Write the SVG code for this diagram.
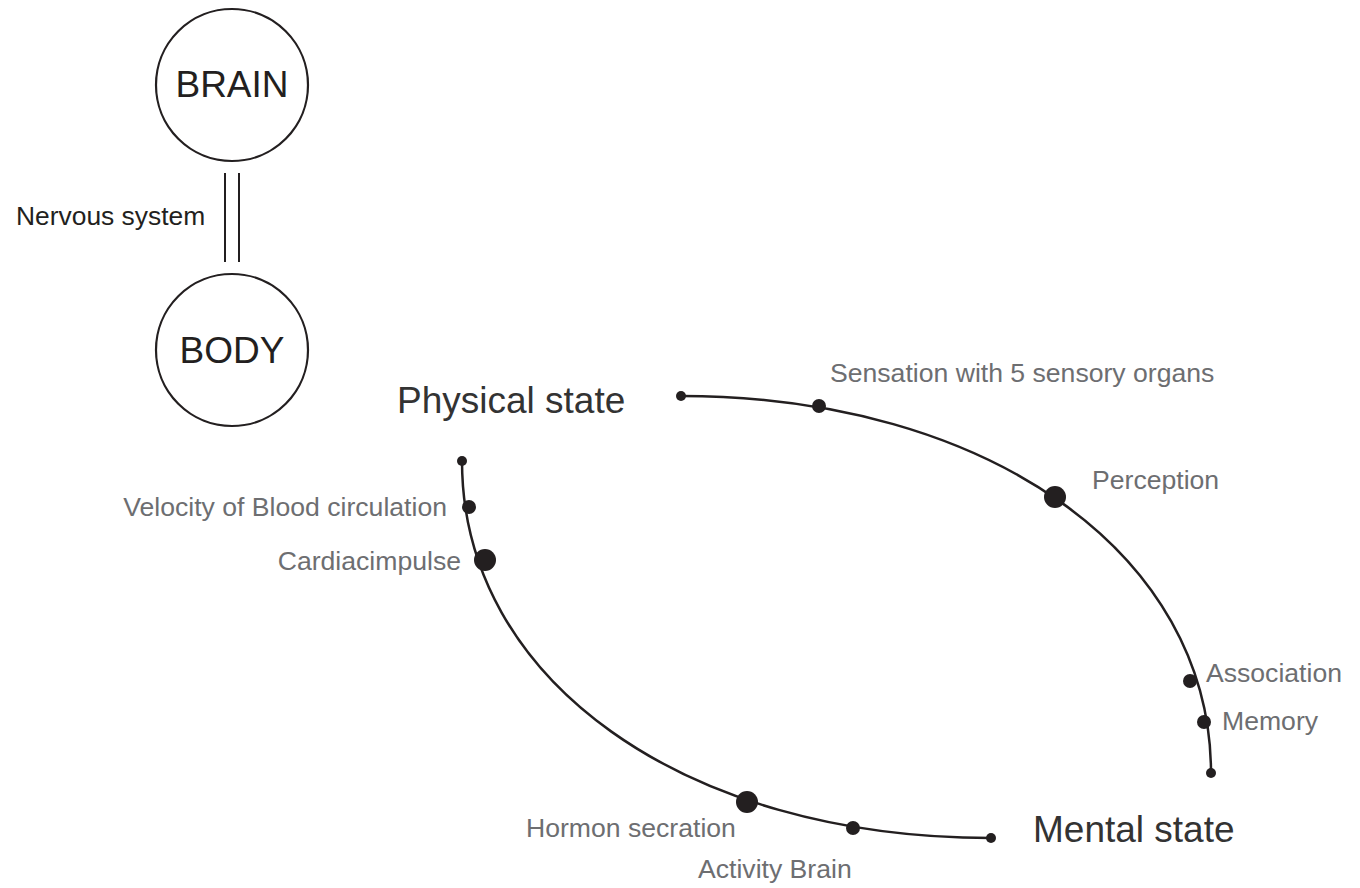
<svg xmlns="http://www.w3.org/2000/svg" width="1360" height="888" viewBox="0 0 1360 888">
  <style>
    .node-ring { fill: #ffffff; stroke: #231f20; stroke-width: 2.2; }
    .node-text { font-family: "Liberation Sans", Arial, sans-serif; font-size: 37px; fill: #231f20; text-anchor: middle; }
    .title { font-family: "Liberation Sans", Arial, sans-serif; font-size: 37px; fill: #333333; }
    .label { font-family: "Liberation Sans", Arial, sans-serif; font-size: 26.6px; fill: #6d6e71; }
    .dark-label { font-family: "Liberation Sans", Arial, sans-serif; font-size: 26.4px; fill: #231f20; }
    .arc { fill: none; stroke: #231f20; stroke-width: 2.5; }
    .link { stroke: #231f20; stroke-width: 2; }
    .dot { fill: #231f20; }
  </style>

  <rect width="1360" height="888" fill="#ffffff"/>

  <!-- Brain / body pair -->
  <g id="brain">
    <circle class="node-ring" cx="232" cy="85" r="76"/>
    <text class="node-text" x="232" y="97">BRAIN</text>
  </g>
  <g id="body">
    <circle class="node-ring" cx="232" cy="350" r="76"/>
    <text class="node-text" x="232" y="363">BODY</text>
  </g>

  <g id="connectors">
    <!-- nervous system: double line between the two circles -->
    <line class="link" x1="225" y1="173" x2="225" y2="262"/>
    <line class="link" x1="239" y1="173" x2="239" y2="262"/>

    <!-- upper arc: physical state towards mental state -->
    <path class="arc" d="M681,396 C988,396 1211,554 1211,773"/>
    <!-- lower arc: back round to mental state -->
    <path class="arc" d="M462,461 C462,680 684,838 991,838"/>
  </g>
  <text id="nervous-label" class="dark-label" x="16" y="225">Nervous system</text>

  <!-- Titles -->
  <g id="physical-state">
    <text class="title" x="397" y="413">Physical state</text>
  </g>
  <g id="mental-state">
    <text class="title" x="1033" y="842">Mental state</text>
  </g>

  <!-- Stages on the upper arc -->
  <g id="upper-start"><circle class="dot" cx="681" cy="396" r="5"/></g>
  <g id="sensation">
    <circle class="dot" cx="819" cy="406" r="7"/>
    <text class="label" x="830" y="382">Sensation with 5 sensory organs</text>
  </g>
  <g id="perception">
    <circle class="dot" cx="1055" cy="497" r="11"/>
    <text class="label" x="1092" y="489">Perception</text>
  </g>
  <g id="association">
    <circle class="dot" cx="1190" cy="681" r="7"/>
    <text class="label" x="1206" y="682">Association</text>
  </g>
  <g id="memory">
    <circle class="dot" cx="1204" cy="722" r="7"/>
    <text class="label" x="1222" y="730">Memory</text>
  </g>
  <g id="upper-end"><circle class="dot" cx="1211" cy="773" r="5"/></g>

  <!-- Stages on the lower arc -->
  <g id="lower-start"><circle class="dot" cx="462" cy="461" r="5"/></g>
  <g id="velocity">
    <circle class="dot" cx="469" cy="507" r="7"/>
    <text class="label" x="447" y="516" text-anchor="end">Velocity of Blood circulation</text>
  </g>
  <g id="cardiac">
    <circle class="dot" cx="485" cy="560" r="11"/>
    <text class="label" x="461" y="570" text-anchor="end">Cardiacimpulse</text>
  </g>
  <g id="hormone">
    <circle class="dot" cx="747" cy="802" r="11"/>
    <text class="label" x="526" y="837">Hormon secration</text>
  </g>
  <g id="activity">
    <circle class="dot" cx="853" cy="828" r="7"/>
    <text class="label" x="698" y="878">Activity Brain</text>
  </g>
  <g id="lower-end"><circle class="dot" cx="991" cy="838" r="5"/></g>
</svg>
